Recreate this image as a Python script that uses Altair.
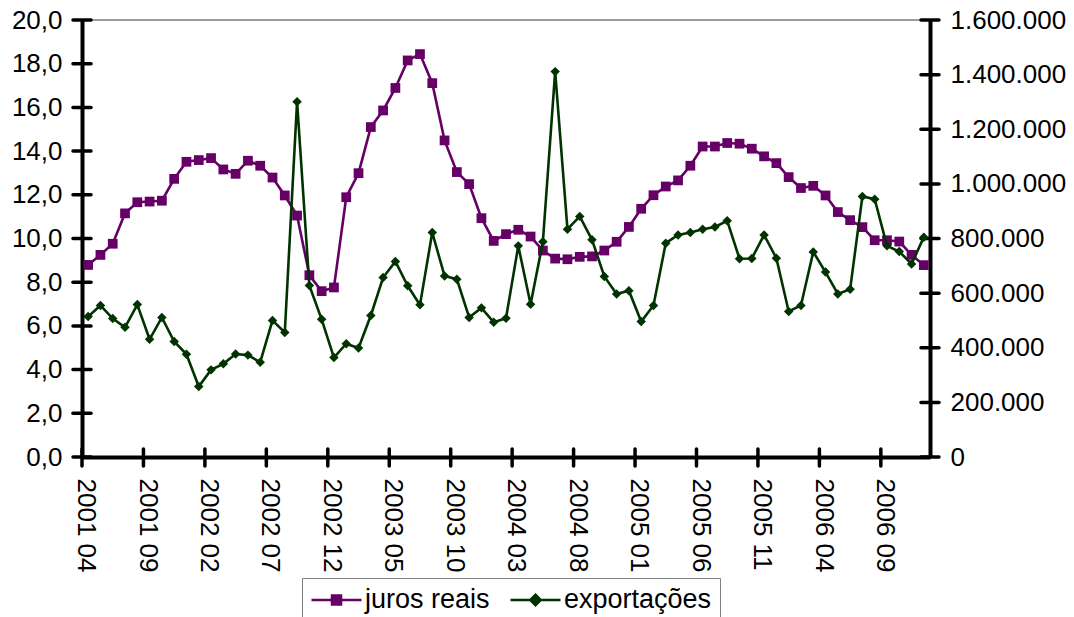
import altair as alt
import pandas as pd

# ---- data -------------------------------------------------------------
meses = []
_y, _m = 2001, 4
for _i in range(69):
    meses.append(f"{_y} {_m:02d}")
    _m += 1
    if _m > 12:
        _m = 1
        _y += 1

juros = [8.79, 9.25, 9.76, 11.15, 11.66, 11.69, 11.73, 12.73, 13.51, 13.59,
         13.68, 13.16, 12.96, 13.56, 13.33, 12.79, 11.97, 11.05, 8.32, 7.59,
         7.76, 11.89, 12.99, 15.10, 15.86, 16.89, 18.15, 18.44, 17.11, 14.49,
         13.04, 12.49, 10.93, 9.89, 10.20, 10.40, 10.09, 9.45, 9.08, 9.05,
         9.16, 9.18, 9.45, 9.85, 10.53, 11.36, 11.98, 12.38, 12.66, 13.33,
         14.21, 14.21, 14.37, 14.34, 14.11, 13.76, 13.45, 12.81, 12.31, 12.41,
         11.97, 11.21, 10.84, 10.52, 9.92, 9.92, 9.86, 9.25, 8.78]

exportacoes = [514000, 555000, 507000, 475000, 558000, 431000, 511000, 423000, 376000, 258000,
               319000, 341000, 377000, 373000, 347000, 500000, 456000, 1301000, 628000, 504000,
               364000, 415000, 399000, 518000, 657000, 716000, 627000, 557000, 822000, 663000,
               651000, 511000, 546000, 493000, 508000, 773000, 559000, 788000, 1411000, 834000,
               881000, 795000, 661000, 597000, 609000, 496000, 555000, 783000, 813000, 822000,
               834000, 842000, 865000, 726000, 727000, 813000, 728000, 533000, 555000, 751000,
               677000, 597000, 614000, 954000, 944000, 773000, 752000, 707000, 805000]

series = ["juros reais", "exportações"]
cores = ["#660066", "#003300"]
rotulos_x = meses[::5]
ticks_esq = [0, 2, 4, 6, 8, 10, 12, 14, 16, 18, 20]
ticks_dir = [0, 200000, 400000, 600000, 800000, 1000000, 1200000, 1400000, 1600000]

df = pd.DataFrame({"mes": meses, "juros": juros, "exportacoes": exportacoes})

# ---- layout constants ---------------------------------------------------
W, H = 848, 437
FONT = "Liberation Sans"
FS = 26
AXW = 4

xscale = alt.Scale(type="band", domain=meses, paddingInner=0, paddingOuter=0)
xaxis = alt.Axis(values=rotulos_x, labelAngle=90, title=None, grid=False,
                 domainColor="black", domainWidth=AXW, tickSize=10, tickOpacity=0,
                 labelPadding=11, labelFontSize=FS, labelFont=FONT, labelColor="black",
                 labelOffset=-2, labelOverlap=False)

lscale = alt.Scale(domain=[0, 20], nice=False, zero=True)
laxis = alt.Axis(values=ticks_esq, orient="left", title=None, grid=False,
                 domainColor="black", domainWidth=AXW, tickSize=10, tickOpacity=0,
                 labelPadding=10, labelFontSize=FS, labelFont=FONT, labelColor="black",
                 labelOverlap=False,
                 labelExpr="replace(format(datum.value, '.1f'), '.', ',')")

rscale = alt.Scale(domain=[0, 1600000], nice=False, zero=True)
raxis = alt.Axis(values=ticks_dir, orient="right", title=None, grid=False,
                 domainColor="black", domainWidth=AXW, tickSize=10, tickOpacity=0,
                 labelPadding=10, labelFontSize=FS, labelFont=FONT, labelColor="black",
                 labelOverlap=False,
                 labelExpr="replace(format(datum.value, ',.0f'), regexp(',', 'g'), '.')")

X = alt.X("mes:O", scale=xscale, axis=xaxis)

# ---- left group (juros reais) -----------------------------------------
base_j = alt.Chart(df).encode(x=X, y=alt.Y("juros:Q", scale=lscale, axis=laxis))
line_j = base_j.mark_line(color=cores[0], strokeWidth=2.6)
pts_j = base_j.mark_point(shape="square", filled=True, size=95, color=cores[0], opacity=1)

ticks_l = alt.Chart(pd.DataFrame({"v": ticks_esq})).mark_rule(
    color="black", strokeWidth=3.5, strokeCap="round").encode(
    y=alt.Y("v:Q", scale=lscale, axis=laxis),
    x=alt.value(-9), x2=alt.value(9))

ticks_b = alt.Chart(pd.DataFrame({"mes": rotulos_x})).mark_rule(
    color="black", strokeWidth=3.5, strokeCap="round").encode(
    x=alt.X("mes:O", scale=xscale, axis=xaxis, bandPosition=0),
    y=alt.value(H - 8), y2=alt.value(H + 9))

top_line = alt.Chart(pd.DataFrame({"a": [0]})).mark_rule(
    color="#808080", strokeWidth=1.5).encode(
    x=alt.value(0), x2=alt.value(W), y=alt.value(0))

left = alt.layer(top_line, ticks_b, ticks_l, line_j, pts_j)

# ---- right group (exportações) ----------------------------------------
base_e = alt.Chart(df).encode(x=X, y=alt.Y("exportacoes:Q", scale=rscale, axis=raxis))
line_e = base_e.mark_line(color=cores[1], strokeWidth=2.6)
pts_e = base_e.mark_point(shape="diamond", filled=True, size=90, color=cores[1], opacity=1)

ticks_r = alt.Chart(pd.DataFrame({"v": ticks_dir})).mark_rule(
    color="black", strokeWidth=3.5, strokeCap="round").encode(
    y=alt.Y("v:Q", scale=rscale, axis=raxis),
    x=alt.value(W - 9), x2=alt.value(W + 9))

right = alt.layer(ticks_r, line_e, pts_e)

# ---- legend (line + marker symbols) -----------------------------------
simbolos = ["M-1,0H3M0.64,-0.36H1.36V0.36H0.64Z",
            "M-1,0H3M1,-0.42L1.42,0L1,0.42L0.58,0Z"]
leg = alt.Legend(title=None, orient="none", legendX=220, legendY=558,
                 direction="horizontal", columns=2, symbolSize=625,
                 symbolStrokeWidth=2.5, labelFontSize=27, labelFont=FONT,
                 labelColor="black", labelOffset=27, columnPadding=15, padding=8,
                 strokeColor="#808080", symbolOpacity=1, labelLimit=400)

legenda = alt.Chart(pd.DataFrame({"serie": series})).mark_point(
    filled=True, clip=True, size=625, strokeWidth=2.5, opacity=1).encode(
    x=alt.value(-300), y=alt.value(-300),
    shape=alt.Shape("serie:N", scale=alt.Scale(domain=series, range=simbolos), legend=leg),
    fill=alt.Fill("serie:N", scale=alt.Scale(domain=series, range=cores), legend=leg),
    stroke=alt.Stroke("serie:N", scale=alt.Scale(domain=series, range=cores), legend=leg))

chart = alt.layer(left, right, legenda).resolve_scale(
    y="independent"
).properties(
    width=W, height=H,
    padding={"left": 11, "top": 7, "right": 5, "bottom": 5},
    background="white"
).configure_view(stroke=None).configure(font=FONT)

chart.save("out.html", embed_options={"renderer": "svg", "actions": False})
